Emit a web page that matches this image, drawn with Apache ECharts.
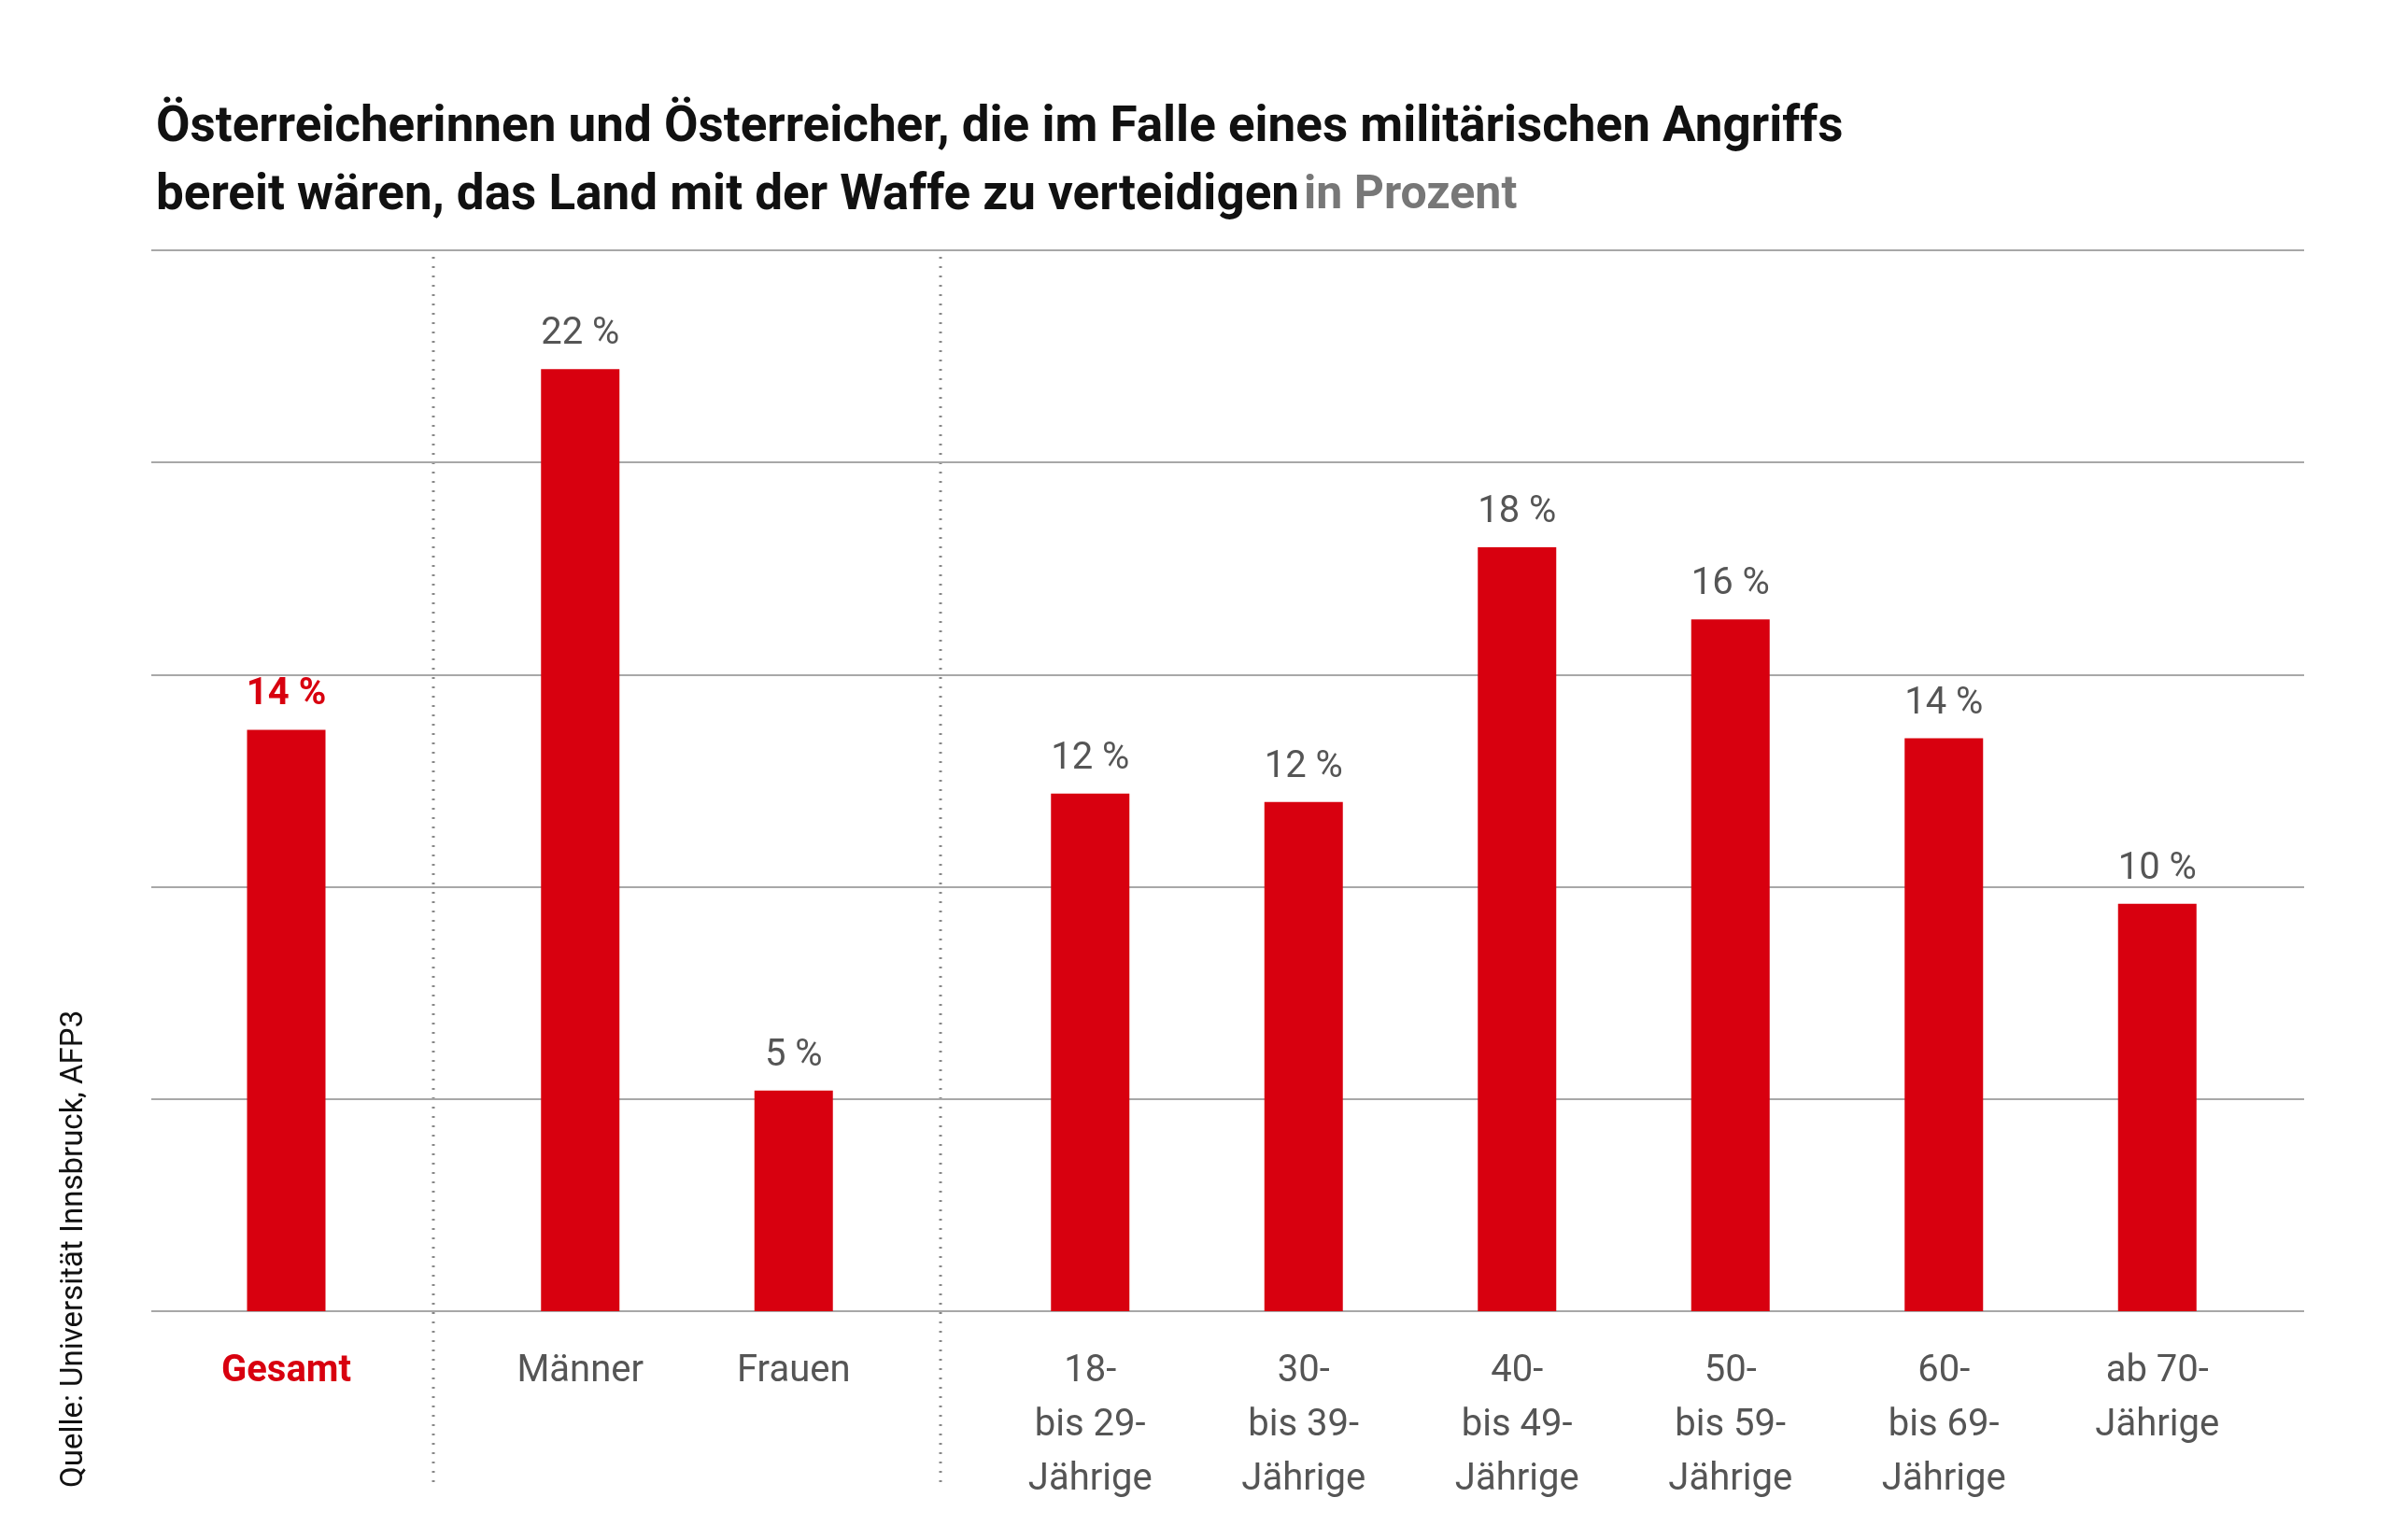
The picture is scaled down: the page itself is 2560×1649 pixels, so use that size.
<!DOCTYPE html>
<html>
<head>
<meta charset="utf-8">
<script src="https://cdn.jsdelivr.net/npm/echarts@6/dist/echarts.min.js"></script>
<style>
  html, body { margin: 0; padding: 0; background: #fff; }
  #main { width: 2560px; height: 1649px; }
</style>
</head>
<body>
<div id="main"></div>
<script>
// data
const totalCats = ['Gesamt'];
const totalVals = [13.7];
const totalLabels = ['14 %'];
const sexCats = ['Männer', 'Frauen'];
const sexVals = [22.2, 5.2];
const sexLabels = ['22 %', '5 %'];
const ageCats = ['18-\nbis 29-\nJährige', '30-\nbis 39-\nJährige', '40-\nbis 49-\nJährige', '50-\nbis 59-\nJährige', '60-\nbis 69-\nJährige', 'ab 70-\nJährige'];
const ageVals = [12.2, 12.0, 18.0, 16.3, 13.5, 9.6];
const ageLabels = ['12 %', '12 %', '18 %', '16 %', '14 %', '10 %'];
const yTicks = [0, 5, 10, 15, 20, 25];

const k = 2560 / 1546;
const s = v => Math.round(v * k);
const RED = '#d8000f';
const GREY = '#555';
const FONT = 'Roboto';

const chart = echarts.init(document.getElementById('main'));

const gTop = s(162), gBottom = 1649 - s(848);
const grids = [
  { left: s(98), right: 2560 - s(1490), top: gTop, bottom: gBottom },
  { left: s(116), width: s(138), top: gTop, bottom: gBottom },
  { left: s(306), width: s(276), top: gTop, bottom: gBottom },
  { left: s(636), width: s(828), top: gTop, bottom: gBottom }
];

function yAx(i, show) {
  return {
    gridIndex: i, type: 'value', min: yTicks[0], max: yTicks[yTicks.length - 1], interval: 5,
    axisLabel: { show: false }, axisLine: { show: false }, axisTick: { show: false },
    splitLine: { show: show, lineStyle: { color: '#a8a8a8', width: 2 } }
  };
}
function xAx(i, cats, color, weight) {
  return {
    gridIndex: i, type: 'category', data: cats,
    axisLine: { show: false }, axisTick: { show: false },
    axisLabel: {
      color: color, fontFamily: FONT, fontSize: s(24), fontWeight: weight,
      lineHeight: s(35), margin: s(22), interval: 0
    }
  };
}
function bars(i, vals, labels, lblColor, lblWeight) {
  return {
    type: 'bar', xAxisIndex: i, yAxisIndex: i, barWidth: s(51),
    data: vals, itemStyle: { color: RED },
    label: {
      show: true, position: 'top', distance: s(10),
      formatter: p => labels[p.dataIndex],
      color: lblColor, fontFamily: FONT, fontSize: s(24), fontWeight: lblWeight
    }
  };
}

const sepLine = x => ({
  type: 'line', shape: { x1: s(x), y1: s(166), x2: s(x), y2: s(962) },
  style: { stroke: '#888', lineWidth: 3, lineDash: [2, 8] }
});

chart.setOption({
  animation: false,
  backgroundColor: '#fff',
  grid: grids,
  xAxis: [
    { gridIndex: 0, type: 'category', data: [''], show: false },
    xAx(1, totalCats, RED, 'bold'),
    xAx(2, sexCats, GREY, 'normal'),
    xAx(3, ageCats, GREY, 'normal')
  ],
  yAxis: [yAx(0, true), yAx(1, false), yAx(2, false), yAx(3, false)],
  series: [
    bars(1, totalVals, totalLabels, RED, 'bold'),
    bars(2, sexVals, sexLabels, GREY, 'normal'),
    bars(3, ageVals, ageLabels, GREY, 'normal')
  ],
  title: {
    left: s(98), top: s(58),
    text: '{b|Österreicherinnen und Österreicher, die im Falle eines militärischen Angriffs}\n{b|bereit wären, das Land mit der Waffe zu verteidigen} {n|in Prozent}',
    textStyle: {
      rich: {
        b: { fontFamily: FONT, fontWeight: 'bold', fontSize: s(32), color: '#111', lineHeight: s(44) },
        n: { fontFamily: FONT, fontSize: s(30), color: '#777', lineHeight: s(44) }
      }
    }
  },
  graphic: [
    sepLine(280), sepLine(608),
    {
      type: 'text', x: s(58), y: s(962), rotation: Math.PI / 2,
      style: { text: 'Quelle: Universität Innsbruck, AFP3', fill: '#111', font: `${s(20)}px ${FONT}`, textAlign: 'left', textVerticalAlign: 'bottom' }
    }
  ]
});
</script>
</body>
</html>
